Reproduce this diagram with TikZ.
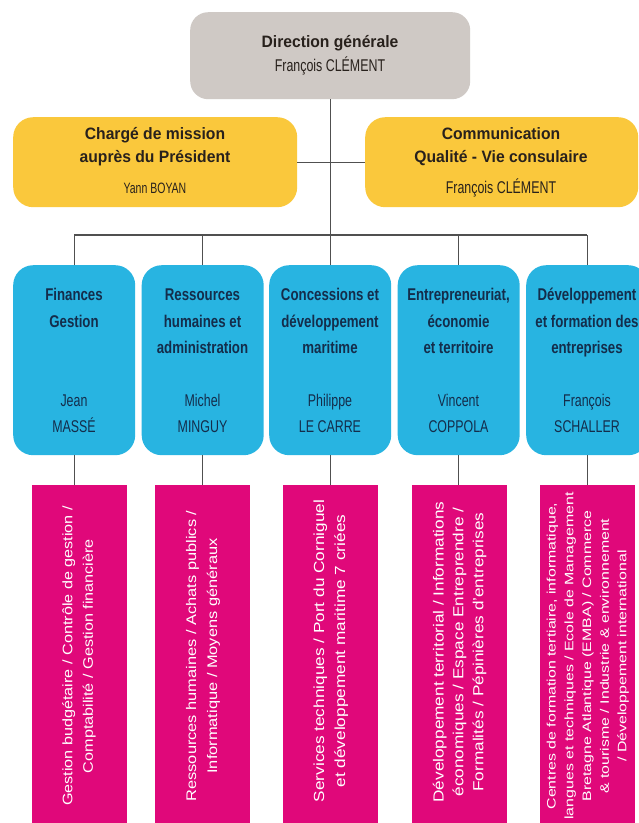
\documentclass[tikz,border=0pt]{standalone}
\usepackage{fontspec}
\usepackage{graphicx}
\setmainfont{Liberation Sans}
\newfontfamily\condfont{Liberation Sans}[FakeStretch=0.73]
\newfontfamily\smallcond{Liberation Sans}[FakeStretch=0.7]
\newfontfamily\titlefont{Liberation Sans}[FakeStretch=0.78]
\newfontfamily\headfont{Liberation Sans}[FakeStretch=0.95]
\definecolor{topgray}{RGB}{207,201,197}
\definecolor{yel}{RGB}{250,200,60}
\definecolor{blu}{RGB}{40,180,225}
\definecolor{mag}{RGB}{224,8,122}
\definecolor{linegray}{RGB}{80,80,80}
\definecolor{darktxt}{RGB}{40,33,28}
\definecolor{navy}{RGB}{20,45,75}
\newcommand{\vlab}[4]{\rotatebox{90}{\scalebox{1}[#3]{\fontsize{#1}{#2}\selectfont\begin{tabular}{@{}c@{}}#4\end{tabular}}}}
\tikzset{
  conn/.style={draw=linegray, line width=1.3pt},
  boxbase/.style={rectangle, inner sep=0pt, anchor=north west},
  topbox/.style={boxbase, fill=topgray, rounded corners=18pt},
  yelbox/.style={boxbase, fill=yel, rounded corners=20pt},
  blubox/.style={boxbase, fill=blu, rounded corners=20pt, minimum width=122pt, minimum height=190pt},
  magbox/.style={boxbase, fill=mag, minimum width=95pt, minimum height=340pt},
  head/.style={anchor=base, inner sep=0pt, text=darktxt, font=\headfont\bfseries\fontsize{16.5}{18}\selectfont},
  hname/.style={anchor=base, inner sep=0pt, text=darktxt, font=\condfont\fontsize{17}{18}\selectfont},
  btitle/.style={anchor=base, inner sep=0pt, text=navy, font=\titlefont\bfseries\fontsize{17}{18}\selectfont},
  bname/.style={anchor=base, inner sep=0pt, text=navy, font=\condfont\fontsize{17}{18}\selectfont},
  vtxt/.style={anchor=center, inner sep=0pt, text=white}
}
\begin{document}
\begin{tikzpicture}[x=1pt,y=-1pt]
\clip (0,0) rectangle (639,823);
\fill[white] (0,0) rectangle (639,823);

% top box
\node[topbox, minimum width=280pt, minimum height=87pt] (dg) at (190,12) {};
\node[head] (dgt) at (330,47) {Direction générale};
\node[hname] (dgn) at (330,71) {François CLÉMENT};

% yellow boxes
\node[yelbox, minimum width=284pt, minimum height=90pt] (y1) at (13,117) {};
\node[yelbox, minimum width=273pt, minimum height=90pt] (y2) at (365,117) {};
\node[head] (y1a) at (155,139) {Chargé de mission};
\node[head] (y1b) at (155,162) {auprès du Président};
\node[hname, font=\smallcond\fontsize{15}{16}\selectfont] (y1c) at (155,193) {Yann BOYAN};
\node[head] (y2a) at (501,139) {Communication};
\node[head] (y2b) at (501,162) {Qualité - Vie consulaire};
\node[hname] (y2c) at (501,193) {François CLÉMENT};

% blue boxes
\node[blubox] (b1) at (13,265) {};
\node[blubox] (b2) at (141.5,265) {};
\node[blubox] (b3) at (269,265) {};
\node[blubox] (b4) at (397.5,265) {};
\node[blubox] (b5) at (526,265) {};

\node[btitle] (b1t1) at (74,300) {Finances};
\node[btitle] (b1t2) at (74,327) {Gestion};
\node[bname] (b1n1) at (74,406) {Jean};
\node[bname] (b1n2) at (74,432) {MASSÉ};

\node[btitle] (b2t1) at (202.5,300) {Ressources};
\node[btitle] (b2t2) at (202.5,327) {humaines et};
\node[btitle] (b2t3) at (202.5,353) {administration};
\node[bname] (b2n1) at (202.5,406) {Michel};
\node[bname] (b2n2) at (202.5,432) {MINGUY};

\node[btitle] (b3t1) at (330,300) {Concessions et};
\node[btitle] (b3t2) at (330,327) {développement};
\node[btitle] (b3t3) at (330,353) {maritime};
\node[bname] (b3n1) at (330,406) {Philippe};
\node[bname] (b3n2) at (330,432) {LE CARRE};

\node[btitle] (b4t1) at (458.5,300) {Entrepreneuriat,};
\node[btitle] (b4t2) at (458.5,327) {économie};
\node[btitle] (b4t3) at (458.5,353) {et territoire};
\node[bname] (b4n1) at (458.5,406) {Vincent};
\node[bname] (b4n2) at (458.5,432) {COPPOLA};

\node[btitle] (b5t1) at (587,300) {Développement};
\node[btitle] (b5t2) at (587,327) {et formation des};
\node[btitle] (b5t3) at (587,353) {entreprises};
\node[bname] (b5n1) at (587,406) {François};
\node[bname] (b5n2) at (587,432) {SCHALLER};

% magenta boxes
\node[magbox] (m1) at (32,485) {};
\node[magbox] (m2) at (155,485) {};
\node[magbox] (m3) at (283,485) {};
\node[magbox] (m4) at (412,485) {};
\node[magbox] (m5) at (540,485) {};

\node[vtxt] (m1t) at (78.5,656) {\vlab{16.2}{24}{0.85}{Gestion budgétaire / Contrôle de gestion /\\Comptabilité / Gestion financière}};
\node[vtxt] (m2t) at (202.5,656) {\vlab{16.4}{24.7}{0.85}{Ressources humaines / Achats publics /\\Informatique / Moyens généraux}};
\node[vtxt] (m3t) at (330.5,651) {\vlab{17.2}{24.7}{0.85}{Services techniques / Port du Corniguel\\et développement maritime 7 criées}};
\node[vtxt] (m4t) at (459.5,652) {\vlab{17.2}{23.5}{0.85}{Développement territorial / Informations\\économiques / Espace Entreprendre /\\Formalités / Pépinières d'entreprises}};
\node[vtxt] (m5t) at (587.5,656) {\vlab{15.9}{23}{0.77}{Centres de formation tertiaire, informatique,\\langues et techniques / Ecole de Management\\Bretagne Atlantique (EMBA) / Commerce\\\& tourisme / Industrie \& environnement\\/ Développement international}};

% connectors
\coordinate (busL) at (74,235);
\coordinate (busR) at (587,235);
\draw[conn] (dg.south) -- (b3.north);
\draw[conn] (y1.east) -- (y2.west);
\draw[conn] (busL) -- (busR);
\draw[conn] (b1.north) -- (b1.north |- busL);
\draw[conn] (b2.north) -- (b2.north |- busL);
\draw[conn] (b4.north) -- (b4.north |- busL);
\draw[conn] (b5.north) -- (b5.north |- busL);
\draw[conn] (b1.south) -- (b1.south |- m1.north);
\draw[conn] (b2.south) -- (b2.south |- m2.north);
\draw[conn] (b3.south) -- (b3.south |- m3.north);
\draw[conn] (b4.south) -- (b4.south |- m4.north);
\draw[conn] (b5.south) -- (b5.south |- m5.north);
\end{tikzpicture}
\end{document}
